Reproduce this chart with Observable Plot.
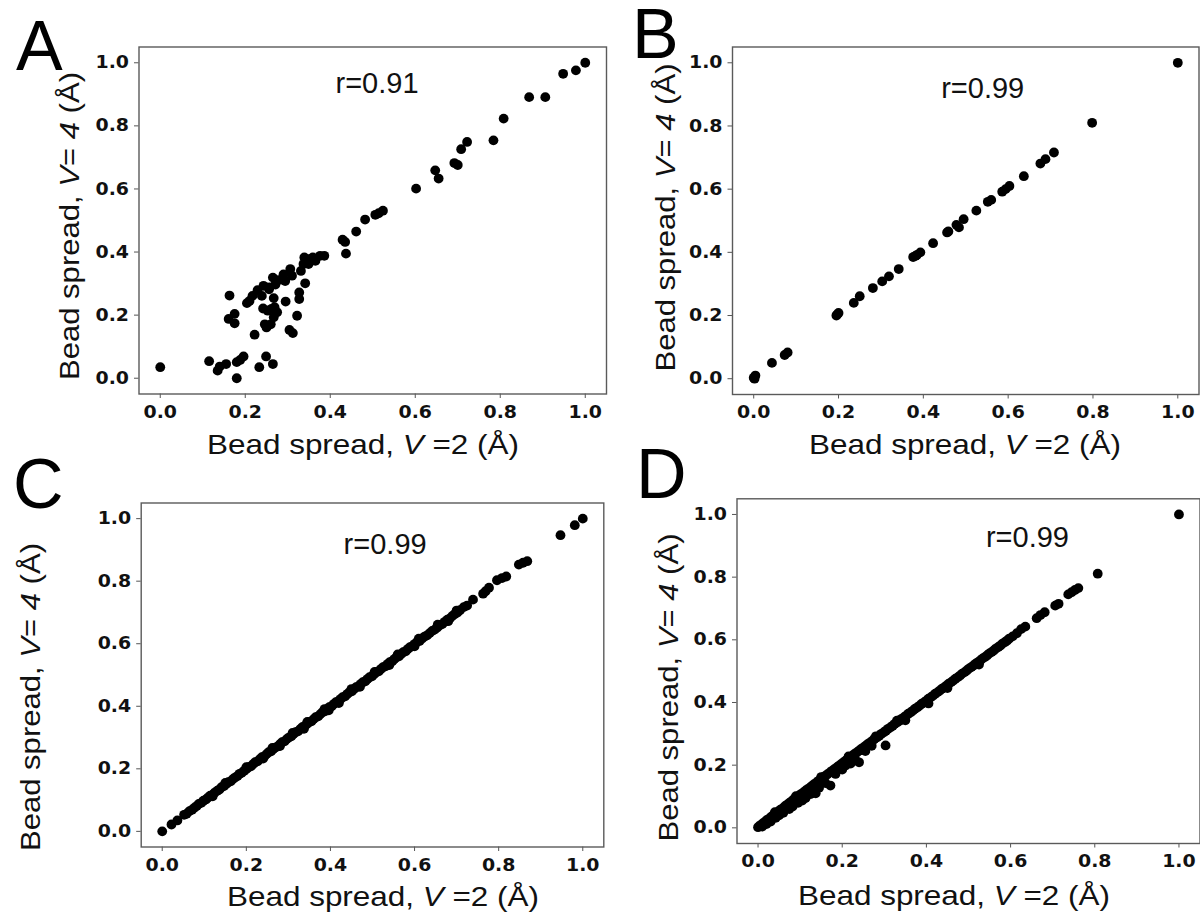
<!DOCTYPE html>
<html><head><meta charset="utf-8">
<script src="https://cdn.jsdelivr.net/npm/d3@7"></script>
<script src="https://cdn.jsdelivr.net/npm/@observablehq/plot@0.6"></script>
<style>
html,body{margin:0;padding:0;background:#fff;}
#fig{position:relative;width:1200px;height:916px;overflow:hidden;background:#fff;}
#fig svg{position:absolute;left:0;top:0;overflow:visible;background:transparent;}
</style></head><body><div id="fig"></div>
<script>
// ---------- data ----------
const panelKeys = ["A","B","C","D"];
const rLabels = ["r=0.91","r=0.99","r=0.99","r=0.99"];
const tickValues = [0.0,0.2,0.4,0.6,0.8,1.0];
const xLabelParts = [["Bead spread, ",false],["V",true],[" =2 (Å)",false]];
const yLabelParts = [["Bead spread, ",false],["V",true],["= ",false],["4",true],[" (Å)",false]];

// Panel A: [V=2 spread, V=4 spread]
const pointsA = [[0.000,0.035],[0.115,0.054],[0.135,0.024],[0.140,0.037],[0.155,0.045],[0.180,0.000],[0.180,0.051],[0.188,0.058],[0.196,0.069],[0.233,0.035],[0.249,0.069],[0.265,0.045],[0.222,0.138],[0.163,0.262],[0.161,0.188],[0.175,0.204],[0.175,0.174],[0.204,0.238],[0.210,0.245],[0.217,0.261],[0.229,0.279],[0.239,0.261],[0.243,0.293],[0.257,0.288],[0.265,0.319],[0.267,0.254],[0.242,0.221],[0.253,0.214],[0.246,0.171],[0.250,0.161],[0.260,0.171],[0.267,0.193],[0.275,0.209],[0.269,0.225],[0.278,0.311],[0.290,0.329],[0.294,0.308],[0.306,0.346],[0.310,0.325],[0.295,0.243],[0.304,0.153],[0.312,0.143],[0.322,0.198],[0.327,0.251],[0.327,0.272],[0.341,0.301],[0.331,0.340],[0.339,0.383],[0.345,0.367],[0.353,0.378],[0.359,0.383],[0.365,0.372],[0.376,0.388],[0.386,0.388],[0.337,0.362],[0.349,0.362],[0.429,0.439],[0.435,0.432],[0.437,0.395],[0.461,0.465],[0.482,0.503],[0.506,0.518],[0.514,0.523],[0.524,0.531],[0.602,0.601],[0.647,0.659],[0.655,0.633],[0.692,0.682],[0.700,0.676],[0.708,0.726],[0.722,0.749],[0.784,0.754],[0.808,0.823],[0.868,0.891],[0.906,0.891],[0.948,0.965],[0.978,0.976],[1.000,1.000],[0.256,0.282],[0.271,0.297],[0.287,0.313],[0.262,0.220]];

// Panel B
const pointsB = [[0.000,0.003],[0.004,0.010],[0.002,0.000],[0.043,0.050],[0.073,0.075],[0.080,0.083],[0.195,0.200],[0.197,0.203],[0.200,0.208],[0.236,0.240],[0.250,0.261],[0.281,0.287],[0.303,0.308],[0.319,0.324],[0.342,0.347],[0.376,0.385],[0.382,0.389],[0.385,0.392],[0.393,0.400],[0.423,0.429],[0.456,0.463],[0.459,0.466],[0.478,0.487],[0.484,0.479],[0.495,0.505],[0.525,0.532],[0.552,0.560],[0.560,0.566],[0.586,0.592],[0.594,0.600],[0.603,0.610],[0.637,0.641],[0.676,0.681],[0.688,0.695],[0.708,0.716],[0.798,0.810],[1.000,1.000]];

// Panel C
const pointsC = [[0.000,0.000],[0.022,0.022],[0.036,0.035],[0.052,0.053],[0.058,0.056],[0.064,0.064],[0.071,0.069],[0.076,0.075],[0.082,0.081],[0.087,0.088],[0.093,0.091],[0.098,0.098],[0.104,0.102],[0.109,0.108],[0.114,0.114],[0.120,0.117],[0.125,0.124],[0.131,0.130],[0.136,0.134],[0.141,0.141],[0.147,0.145],[0.152,0.151],[0.157,0.157],[0.163,0.160],[0.168,0.167],[0.173,0.172],[0.179,0.177],[0.184,0.184],[0.189,0.187],[0.195,0.194],[0.200,0.199],[0.205,0.205],[0.211,0.208],[0.216,0.215],[0.221,0.221],[0.227,0.224],[0.232,0.231],[0.237,0.237],[0.243,0.240],[0.248,0.247],[0.253,0.253],[0.259,0.256],[0.264,0.263],[0.269,0.268],[0.275,0.272],[0.280,0.279],[0.285,0.285],[0.291,0.288],[0.296,0.295],[0.301,0.300],[0.307,0.304],[0.312,0.311],[0.317,0.317],[0.323,0.320],[0.328,0.327],[0.333,0.333],[0.337,0.328],[0.339,0.337],[0.344,0.343],[0.349,0.349],[0.355,0.352],[0.360,0.359],[0.365,0.365],[0.371,0.368],[0.376,0.375],[0.381,0.381],[0.387,0.384],[0.392,0.391],[0.396,0.387],[0.397,0.397],[0.403,0.400],[0.408,0.407],[0.413,0.413],[0.419,0.416],[0.420,0.410],[0.424,0.423],[0.429,0.429],[0.435,0.432],[0.440,0.439],[0.445,0.445],[0.451,0.448],[0.456,0.455],[0.461,0.461],[0.467,0.464],[0.472,0.471],[0.477,0.477],[0.483,0.480],[0.488,0.487],[0.493,0.493],[0.499,0.496],[0.504,0.503],[0.509,0.509],[0.515,0.512],[0.520,0.519],[0.525,0.525],[0.531,0.528],[0.536,0.535],[0.541,0.541],[0.547,0.544],[0.552,0.551],[0.557,0.557],[0.563,0.560],[0.568,0.567],[0.573,0.573],[0.579,0.576],[0.584,0.583],[0.589,0.589],[0.595,0.592],[0.600,0.599],[0.606,0.606],[0.612,0.609],[0.618,0.617],[0.624,0.623],[0.630,0.627],[0.636,0.634],[0.642,0.641],[0.648,0.645],[0.654,0.652],[0.660,0.659],[0.666,0.663],[0.672,0.670],[0.678,0.677],[0.684,0.681],[0.690,0.689],[0.696,0.695],[0.702,0.700],[0.708,0.707],[0.717,0.717],[0.725,0.722],[0.739,0.741],[0.763,0.760],[0.769,0.768],[0.777,0.779],[0.796,0.803],[0.808,0.810],[0.818,0.815],[0.848,0.853],[0.858,0.859],[0.868,0.864],[0.947,0.947],[0.981,0.979],[1.000,1.000],
[0.150,0.155],[0.200,0.205],[0.262,0.267],[0.310,0.315],[0.345,0.350],[0.386,0.391],[0.450,0.455],[0.505,0.510],[0.560,0.566],[0.610,0.616],[0.655,0.661],[0.700,0.706],[0.120,0.112],[0.240,0.233],[0.280,0.273],[0.470,0.462],[0.540,0.532],[0.600,0.592],[0.680,0.672]];

// Panel D
const pointsD = [[0.000,0.002],[0.005,0.008],[0.011,0.014],[0.016,0.019],[0.021,0.025],[0.027,0.030],[0.032,0.036],[0.037,0.041],[0.043,0.047],[0.048,0.052],[0.053,0.058],[0.059,0.063],[0.064,0.069],[0.069,0.074],[0.075,0.080],[0.080,0.085],[0.085,0.091],[0.091,0.096],[0.096,0.101],[0.101,0.107],[0.107,0.112],[0.112,0.118],[0.117,0.123],[0.123,0.128],[0.128,0.134],[0.133,0.139],[0.139,0.145],[0.144,0.150],[0.149,0.155],[0.155,0.161],[0.160,0.166],[0.165,0.171],[0.171,0.177],[0.176,0.182],[0.181,0.187],[0.187,0.193],[0.192,0.198],[0.197,0.203],[0.203,0.209],[0.208,0.214],[0.213,0.219],[0.219,0.225],[0.224,0.230],[0.229,0.236],[0.235,0.241],[0.240,0.246],[0.245,0.252],[0.251,0.257],[0.256,0.262],[0.261,0.268],[0.267,0.273],[0.272,0.278],[0.277,0.284],[0.283,0.289],[0.288,0.294],[0.293,0.300],[0.299,0.305],[0.304,0.310],[0.309,0.316],[0.315,0.321],[0.320,0.326],[0.325,0.332],[0.331,0.337],[0.336,0.342],[0.341,0.348],[0.347,0.353],[0.352,0.358],[0.357,0.364],[0.363,0.369],[0.368,0.374],[0.373,0.380],[0.379,0.385],[0.384,0.390],[0.389,0.396],[0.395,0.401],[0.400,0.406],[0.405,0.412],[0.411,0.417],[0.416,0.422],[0.421,0.428],[0.427,0.433],[0.432,0.438],[0.437,0.444],[0.443,0.449],[0.448,0.454],[0.453,0.460],[0.459,0.465],[0.464,0.470],[0.469,0.476],[0.475,0.481],[0.480,0.486],[0.485,0.492],[0.491,0.497],[0.496,0.502],[0.501,0.508],[0.507,0.513],[0.512,0.518],[0.517,0.524],[0.523,0.529],[0.528,0.534],[0.533,0.540],[0.539,0.545],[0.544,0.550],[0.549,0.556],[0.555,0.561],[0.560,0.566],[0.565,0.572],[0.571,0.577],[0.576,0.582],[0.581,0.588],[0.587,0.593],[0.592,0.598],[0.597,0.604],[0.605,0.611],[0.615,0.621],[0.625,0.634],[0.635,0.642],[0.662,0.669],[0.671,0.679],[0.681,0.688],[0.706,0.709],[0.714,0.715],[0.737,0.745],[0.745,0.752],[0.753,0.759],[0.761,0.765],[0.807,0.811],[1.000,1.000],
[0.010,0.004],[0.020,0.012],[0.030,0.020],[0.042,0.032],[0.050,0.040],[0.060,0.048],[0.074,0.060],[0.082,0.068],[0.095,0.080],[0.105,0.087],[0.113,0.095],[0.125,0.108],[0.137,0.110],[0.145,0.128],[0.160,0.143],[0.172,0.135],[0.184,0.172],[0.200,0.186],[0.208,0.199],[0.220,0.205],[0.230,0.222],[0.240,0.209],[0.255,0.245],[0.270,0.262],[0.303,0.263],[0.350,0.343],[0.405,0.397],[0.450,0.446],[0.525,0.521],
[0.040,0.050],[0.090,0.101],[0.150,0.162],[0.215,0.228],[0.280,0.292],[0.330,0.342]];

const panelPoints = [pointsA, pointsB, pointsC, pointsD];

// ---------- layout (pixels) ----------
const W = 1200, H = 916;
const axisDomain = [-0.05, 1.05];
const layout = {
  A: {frame:[138.5,606,46.5,393.5], letter:[16,70], yLabel:[79,226], xLabel:[363,454], r:[0.51,0.905]},
  B: {frame:[732,1198.5,46.5,394], letter:[632,58], yLabel:[675,217.5], xLabel:[965,454], r:[0.54,0.89]},
  C: {frame:[140.7,603.3,502.5,846.5], letter:[13,508], yLabel:[39.5,697], xLabel:[383,906], r:[0.53,0.888]},
  D: {frame:[736.5,1199.5,498.3,843], letter:[636,498], yLabel:[678,687.5], xLabel:[954,905], r:[0.64,0.895]}
};
const LABEL_FONT = "'Liberation Sans', Arial, sans-serif";
const TICK_FONT = "'DejaVu Sans', sans-serif";
const TICK_SIZE = 17.5;
const fmt = d3.format(".1f");

const fig = document.getElementById("fig");

function addRich(svg, parts, attrs) {
  const t = svg.append("text")
    .attr("font-family", LABEL_FONT)
    .attr("font-size", attrs.size)
    .attr("fill", "#111")
    .attr("text-anchor", attrs.anchor || "middle");
  if (attrs.rotate) t.attr("transform", `translate(${attrs.x},${attrs.y}) rotate(-90)`);
  else t.attr("x", attrs.x).attr("y", attrs.y);
  if (attrs.length) t.attr("textLength", attrs.length).attr("lengthAdjust", "spacingAndGlyphs");
  parts.forEach(([s, it]) => t.append("tspan").attr("font-style", it ? "italic" : "normal").text(s));
  return t;
}

panelKeys.forEach((key, i) => {
  const L = layout[key];
  const [x0, x1, y0, y1] = L.frame;
  const chart = Plot.plot({
    width: W, height: H,
    marginLeft: x0, marginRight: W - x1, marginTop: y0, marginBottom: H - y1,
    style: {fontFamily: TICK_FONT, fontSize: TICK_SIZE + "px", background: "transparent", overflow: "visible"},
    x: {domain: axisDomain},
    y: {domain: axisDomain},
    marks: [
      Plot.axisX(tickValues, {tickFormat: fmt, tickSize: 4.5, tickPadding: 7, label: null, fontSize: TICK_SIZE, fontFamily: TICK_FONT, fontWeight: "bold", stroke: "#555", fill: "#111"}),
      Plot.axisY(tickValues, {tickFormat: fmt, tickSize: 4.5, tickPadding: 5.5, label: null, fontSize: TICK_SIZE, fontFamily: TICK_FONT, fontWeight: "bold", stroke: "#555", fill: "#111"}),
      Plot.dot(panelPoints[i], {x: d => d[0], y: d => d[1], r: 4.9, fill: "#000", stroke: null}),
      Plot.text([rLabels[i]], {x: () => L.r[0], y: () => L.r[1], text: d => d, textAnchor: "middle", lineAnchor: "bottom", fontSize: 29, fontFamily: LABEL_FONT, fill: "#111"}),
      Plot.frame({stroke: "#5a5a5a", strokeWidth: 1.4})
    ]
  });
  fig.appendChild(chart);
  const svg = d3.select(chart);
  svg.selectAll('[aria-label="x-axis tick label"] text, [aria-label="y-axis tick label"] text')
    .attr("font-weight", "bold")
    .attr("font-size", TICK_SIZE)
    .attr("textLength", 33.5)
    .attr("lengthAdjust", "spacingAndGlyphs");
  // panel letter
  svg.append("text").attr("x", L.letter[0]).attr("y", L.letter[1])
    .attr("text-anchor", "start")
    .attr("font-family", LABEL_FONT).attr("font-size", 70).attr("fill", "#000").text(key);
  // axis labels
  addRich(svg, xLabelParts, {x: L.xLabel[0], y: L.xLabel[1], size: 28, length: 312});
  addRich(svg, yLabelParts, {x: L.yLabel[0], y: L.yLabel[1], size: 27, length: 308, rotate: true});
});
</script>
</body></html>
